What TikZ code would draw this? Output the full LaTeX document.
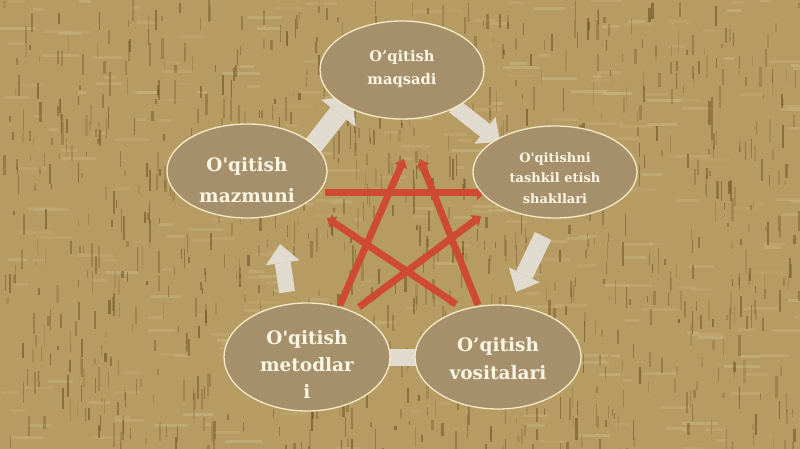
\documentclass[tikz,border=0pt]{standalone}
\usepackage{fontspec}
\setmainfont{DejaVu Serif}
\usetikzlibrary{shapes.geometric,arrows.meta,calc}
\pgfdeclarelayer{bg}
\pgfdeclarelayer{mid}
\pgfsetlayers{bg,mid,main}
\definecolor{bgtan}{RGB}{182,156,98}
\definecolor{elfill}{RGB}{165,144,107}
\definecolor{elline}{RGB}{246,234,198}
\definecolor{blk}{RGB}{224,219,206}
\definecolor{starred}{RGB}{207,74,50}
\definecolor{txt}{RGB}{252,246,228}
\definecolor{grain}{RGB}{95,72,25}
\definecolor{grainlt}{RGB}{212,192,142}
\begin{document}
\begin{tikzpicture}[x=1pt,y=-1pt,
  bubble/.style={ellipse, draw=elline, line width=1.3pt, fill=elfill, inner sep=0pt},
  btext/.style={align=center, text=txt, inner sep=0pt, font=\bfseries},
  redline/.style={draw=starred, line width=7pt, -{Triangle[length=8pt,width=14pt,line width=0pt]}},
  bigarrow/.style={draw=blk, line width=20pt, -{Triangle[length=22pt,width=44pt,line width=0pt]}},
  midarrow/.style={draw=blk, line width=16pt, -{Triangle[length=19pt,width=34pt,line width=0pt]}}]
\useasboundingbox (0,0) rectangle (800,449);
\begin{pgfonlayer}{bg}
  \fill[bgtan] (0,0) rectangle (800,449);
  \begin{scope}
    \clip (0,0) rectangle (800,449);
    \pgfmathsetseed{11}
    \foreach \i in {1,...,300}{
      \pgfmathsetmacro\xx{rnd*800}
      \pgfmathsetmacro\yy{rnd*449}
      \pgfmathsetmacro\ll{8+rnd*30}
      \pgfmathsetmacro\op{0.15+0.25*rnd}
      \draw[grainlt, opacity=\op, line width=3pt] (\xx,\yy) -- ++(\ll,0);
    }
    \foreach \i in {1,...,1000}{
      \pgfmathsetmacro\xx{rnd*800}
      \pgfmathsetmacro\yy{rnd*449}
      \pgfmathsetmacro\ll{4+rnd*20}
      \pgfmathsetmacro\op{0.15+0.4*rnd}
      \pgfmathsetmacro\lw{0.8+1.8*rnd}
      \draw[grain, opacity=\op, line width=\lw pt] (\xx,\yy) -- ++(0,\ll);
    }
  \end{scope}
\end{pgfonlayer}

% ellipses
\node[bubble, minimum width=164pt, minimum height=98pt] (mq) at (402,70) {};
\node[bubble, minimum width=164pt, minimum height=92pt] (sh) at (555,172) {};
\node[bubble, minimum width=160pt, minimum height=94pt] (mz) at (247,171) {};
\node[bubble, minimum width=166pt, minimum height=108pt] (md) at (307,357) {};
\node[bubble, minimum width=166pt, minimum height=104pt] (vs) at (498,357) {};

% texts
\node[btext, font=\bfseries\fontsize{14.7}{23}\selectfont] (mqt) at ($(mq)+(0,-1)$) {O’qitish\\maqsadi};
\node[btext, font=\bfseries\fontsize{13}{20.5}\selectfont] (sht) at ($(sh)+(0,6)$) {O\textquotesingle qitishni\\tashkil etish\\shakllari};
\node[btext, font=\bfseries\fontsize{18.5}{31}\selectfont] (mzt) at ($(mz)+(0,9)$) {O\textquotesingle qitish\\mazmuni};
\node[btext, font=\bfseries\fontsize{18.5}{27}\selectfont] (mdt) at ($(md)+(0,7)$) {O\textquotesingle qitish\\metodlar\\i};
\node[btext, font=\bfseries\fontsize{18.5}{28}\selectfont] (vst) at ($(vs)+(0,2)$) {O’qitish\\vositalari};

\begin{pgfonlayer}{mid}
  % cycle block arrows
  \draw[bigarrow] ($(mz)+(62,-20)$) -- ($(mq)+(-50,26)$);
  \draw[midarrow] ($(mq)+(52,36)$) -- ($(sh)+(-55,-30)$);
  \draw[midarrow, line width=18pt] ($(sh)+(-12,64)$) -- ($(vs)+(18,-65)$);
  \draw[midarrow, line width=17pt] ($(vs)+(-70,0)$) -- ($(md)+(55,0)$);
  \draw[midarrow] ($(md)+(-20,-65)$) -- ($(mz)+(33,73)$);
  % red star
  \draw[redline] ($(mz)+(78,22)$) -- ($(sh)+(-70,21)$);
  \draw[redline] ($(md)+(33,-52)$) -- ($(mq)+(2,89)$);
  \draw[redline] ($(vs)+(-20,-52)$) -- ($(mq)+(18,89)$);
  \draw[redline] ($(md)+(52,-50)$) -- ($(sh)+(-74,44)$);
  \draw[redline] ($(vs)+(-42,-53)$) -- ($(mz)+(80,47)$);
\end{pgfonlayer}
\end{tikzpicture}
\end{document}
